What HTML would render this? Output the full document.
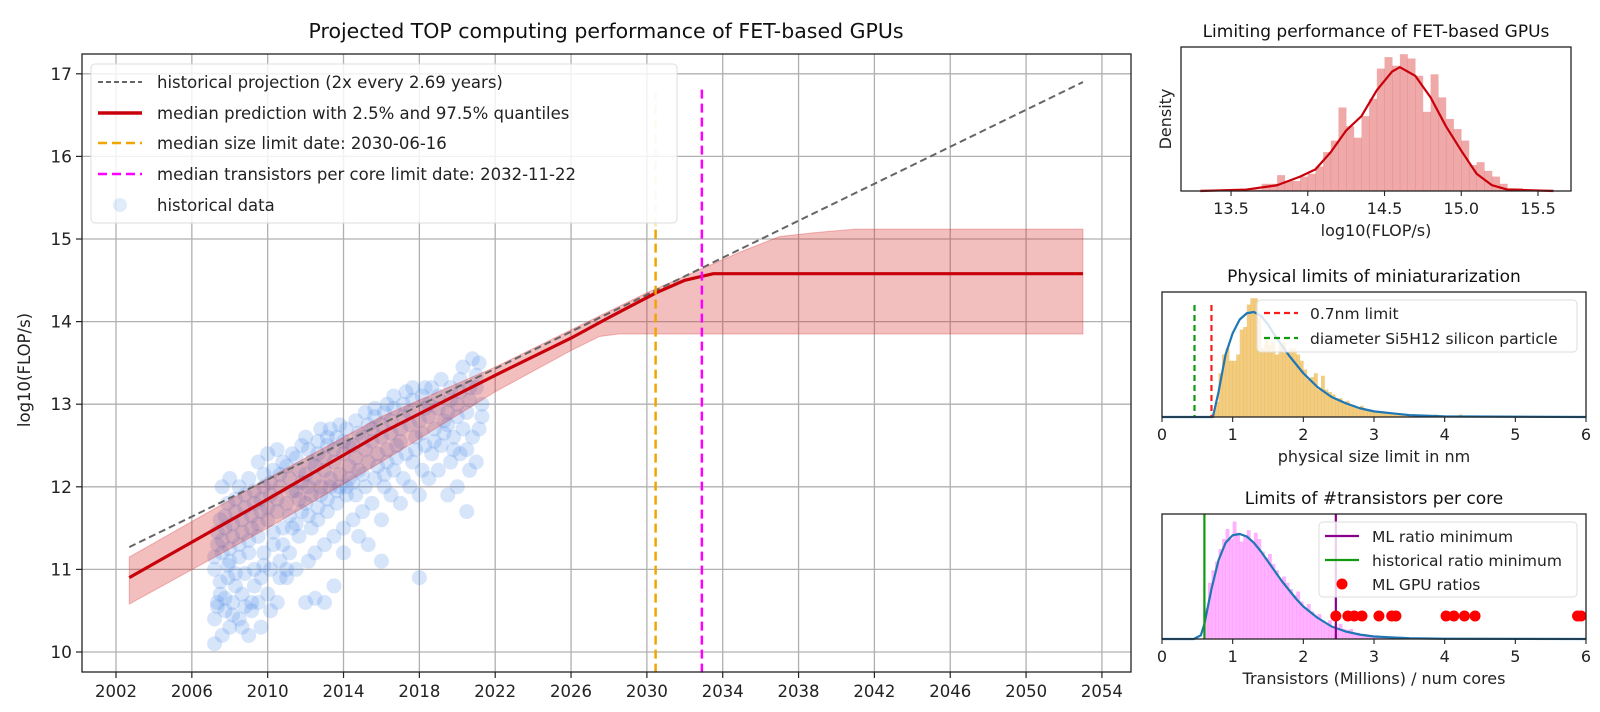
<!DOCTYPE html>
<html><head><meta charset="utf-8">
<style>
html,body{margin:0;padding:0;background:#fff;}
svg{display:block;font-family:"DejaVu Sans","Liberation Sans",sans-serif;}
</style></head>
<body>
<svg id="svg" width="1600" height="712" viewBox="0 0 1600 712">
<text x="606" y="38" font-size="20.5" text-anchor="middle" fill="#111">Projected TOP computing performance of FET-based GPUs</text>
<text x="1376" y="37" font-size="17" text-anchor="middle" fill="#111">Limiting performance of FET-based GPUs</text>
<text x="1374" y="282" font-size="17" text-anchor="middle" fill="#111">Physical limits of miniaturarization</text>
<text x="1374" y="504" font-size="17" text-anchor="middle" fill="#111">Limits of #transistors per core</text>
</svg>
<script>
// ===== main chart data =====
const xTicks = [2002,2006,2010,2014,2018,2022,2026,2030,2034,2038,2042,2046,2050,2054];
const yTicks = [10,11,12,13,14,15,16,17];
const projYears = [2002.7, 2053];
const projVals = [11.27, 16.9];
const medYears = [2002.7,2010,2016,2022,2026,2028,2030.5,2032,2033.5,2053];
const medVals = [10.9,11.85,12.65,13.35,13.8,14.05,14.35,14.5,14.58,14.58];
const upYears = [2002.7,2010,2016,2022,2026,2030,2033,2035,2037,2039,2041,2053];
const upVals = [11.15,12.1,12.85,13.45,13.9,14.35,14.65,14.85,15.03,15.08,15.12,15.12];
const loYears = [2002.7,2010,2016,2022,2026,2027.5,2028.5,2053];
const loVals = [10.58,11.5,12.3,13.15,13.65,13.82,13.85,13.85];
const sizeLimitYear = 2030.46;
const coreLimitYear = 2032.9;
const scatterYears = [2007.2,2007.6,2008.0,2008.5,2009.0,2009.5,2010.0,2010.5,2011.0,2011.5,2012.0,2012.5,2013.0,2013.5,2014.0,2014.5,2015.0,2015.5,2016.0,2016.5,2017.0,2017.5,2018.0,2018.5,2019.0,2019.5,2020.0,2020.5,2021.0];
const scatterValues = [
[10.1,10.55,10.7,11.0,11.3,11.6,10.4,10.6,10.85,11.15,11.45],
[10.2,10.5,10.9,11.2,11.5,11.8,12.0,10.65,11.05,11.35,11.65],
[10.3,10.6,10.8,11.1,11.4,11.7,12.1,10.45,10.95,11.25,11.55,11.85],
[10.4,10.7,10.95,11.3,11.6,11.9,12.0,10.3,10.55,11.15,11.45,11.75],
[10.2,10.5,10.8,11.2,11.5,11.8,12.1,10.6,11.0,11.35,11.65,11.95],
[10.6,10.9,11.2,11.4,11.7,12.0,12.3,10.3,11.05,11.55,11.85,12.15],
[10.7,11.0,11.3,11.6,11.9,12.2,12.4,10.5,11.45,11.75,12.05],
[10.6,10.9,11.3,11.7,12.0,12.3,12.45,11.1,11.5,11.85,12.15],
[10.9,11.2,11.5,11.8,12.1,12.4,11.0,11.65,11.95,12.25],
[11.0,11.4,11.7,11.95,12.2,12.5,11.55,11.85,12.05,12.35],
[10.6,11.1,11.5,11.8,12.0,12.3,12.6,11.65,11.9,12.15,12.45],
[11.2,11.6,11.9,12.1,12.4,12.7,10.65,11.75,12.0,12.25,12.55],
[11.3,11.7,12.0,12.2,12.5,12.7,10.6,11.85,12.1,12.35,12.6],
[11.4,11.8,12.0,12.3,12.6,12.75,10.8,11.95,12.15,12.45],
[11.5,11.9,12.1,12.4,12.7,12.5,11.2,12.0,12.25,12.55],
[11.6,11.9,12.2,12.5,12.8,11.4,12.05,12.35,12.65],
[11.7,12.0,12.3,12.6,12.9,11.3,12.15,12.45,12.75],
[11.8,12.1,12.4,12.7,12.95,12.25,12.55,12.85],
[11.6,12.0,12.3,12.6,12.9,13.0,11.1,12.15,12.45,12.75],
[11.9,12.2,12.5,12.8,13.1,12.35,12.65,12.95],
[11.8,12.1,12.4,12.7,13.0,13.15,12.55,12.85],
[12.0,12.3,12.6,12.9,13.2,12.45,12.75,13.05],
[11.9,12.2,12.5,12.8,13.1,13.2,10.9,12.65,12.95],
[12.1,12.4,12.7,13.0,13.2,12.55,12.85],
[12.2,12.5,12.8,13.1,13.3,12.65,12.95],
[11.9,12.3,12.6,12.9,13.2,12.45,12.75,13.05],
[12.0,12.4,12.7,13.0,13.3,13.45,12.85,13.15],
[11.7,12.2,12.6,12.9,13.2,13.55,12.45,13.05],
[12.3,12.7,13.0,13.2,13.5,12.85,13.35]];

// ===== top-right: limiting performance =====
const perfTicks = [13.5,14.0,14.5,15.0,15.5];
const perfBinStart = 13.3;
const perfBinWidth = 0.05;
const perfBins = [0.01,0.01,0.01,0.01,0.01,0.01,0.01,0.01,0.05,0.05,0.11,0.07,0.07,0.1,0.12,0.17,0.27,0.35,0.58,0.45,0.37,0.52,0.64,0.85,0.93,0.87,0.95,0.92,0.8,0.55,0.81,0.65,0.5,0.43,0.35,0.18,0.2,0.14,0.1,0.05,0.02,0.02,0.01,0.01,0.01,0.01];
const perfKdeX = [13.3,13.6,13.8,13.95,14.05,14.15,14.25,14.35,14.45,14.55,14.6,14.7,14.8,14.9,15.0,15.1,15.2,15.3,15.6];
const perfKdeY = [0,0.01,0.04,0.1,0.15,0.27,0.42,0.52,0.7,0.83,0.86,0.8,0.65,0.45,0.28,0.12,0.04,0.01,0];

// ===== middle-right: size limits =====
const sizeTicks = [0,1,2,3,4,5,6];
const sizeBinStart = 0.7;
const sizeBinWidth = 0.05;
const sizeBins = [0.03,0.12,0.35,0.5,0.55,0.45,0.45,0.5,0.7,0.72,0.9,0.95,0.95,0.8,0.55,0.62,0.58,0.6,0.5,0.58,0.6,0.52,0.55,0.55,0.5,0.45,0.38,0.3,0.32,0.35,0.22,0.33,0.22,0.2,0.18,0.15,0.15,0.12,0.13,0.1,0.08,0.07,0.09,0.06,0.06,0.05,0.05,0.04,0.03,0.04,0.03,0.02,0.03,0.02,0.02,0.01,0.02,0.01,0.01,0.01,0.01,0.01,0.01,0.02,0.01,0.01,0.01,0,0,0,0.02];
const sizeKdeX = [0,0.72,0.8,0.9,1.0,1.1,1.2,1.3,1.4,1.5,1.6,1.7,1.8,1.9,2.0,2.2,2.4,2.6,2.8,3.0,3.5,4.0,6.0];
const sizeKdeY = [0,0,0.2,0.5,0.67,0.78,0.83,0.84,0.81,0.74,0.65,0.57,0.49,0.42,0.35,0.24,0.16,0.11,0.07,0.045,0.015,0.005,0];
const limit07 = 0.7;
const limitSi = 0.46;

// ===== bottom-right: transistors per core =====
const trTicks = [0,1,2,3,4,5,6];
const trBinStart = 0.6;
const trBinWidth = 0.05;
const trBins = [0.25,0.45,0.55,0.62,0.72,0.8,0.88,0.8,0.94,0.85,0.78,0.82,0.87,0.78,0.85,0.8,0.7,0.65,0.68,0.6,0.55,0.48,0.5,0.45,0.4,0.35,0.38,0.3,0.25,0.28,0.22,0.18,0.2,0.15,0.12,0.15,0.1,0.08,0.12,0.08,0.07,0.08,0.04,0.05,0.03,0.04,0.03,0.02,0.03,0.02,0.02,0.01,0.02,0.01,0.01,0.01,0.01,0.01,0.01,0.01,0.01,0.01];
const trKdeX = [0,0.45,0.55,0.6,0.7,0.8,0.9,1.0,1.1,1.2,1.3,1.4,1.5,1.6,1.7,1.8,1.9,2.0,2.2,2.4,2.6,2.8,3.0,3.5,4.0,6.0];
const trKdeY = [0,0,0.03,0.12,0.4,0.63,0.77,0.83,0.84,0.82,0.77,0.7,0.62,0.54,0.46,0.39,0.32,0.26,0.17,0.1,0.06,0.035,0.02,0.006,0.002,0];
const mlRatioMin = 2.46;
const histRatioMin = 0.6;
const mlGpuRatios = [2.46,2.63,2.72,2.83,3.07,3.25,3.31,4.02,4.13,4.28,4.43,5.88,5.93];

const NS = "http://www.w3.org/2000/svg";
const svg = document.getElementById('svg');
function mk(tag, attrs, parent){
  const e = document.createElementNS(NS, tag);
  for (const k in attrs) e.setAttribute(k, attrs[k]);
  (parent||svg).appendChild(e);
  return e;
}

// ---------- main chart ----------
const M = {l:82, r:1131, t:54, b:672};
const X = yr => 116 + (yr - 2002) * 18.96;
const Y = v => 652 - (v - 10) * 82.6;
const gMain = mk('g', {});


xTicks.forEach(t => {
  const l = mk('line', {x1:X(t), x2:X(t), y1:M.t, y2:M.b, stroke:'#b0b0b0', 'stroke-width':1.3}, gMain);
  
  
  const tk = mk('line', {x1:X(t), x2:X(t), y1:M.b, y2:M.b+6, stroke:'#222', 'stroke-width':1.2}, gMain);
  
  
  const tx = mk('text', {x:X(t), y:M.b+25, 'font-size':16.5, 'text-anchor':'middle', fill:'#222'}, gMain);
  tx.textContent = t;
  
  
});
yTicks.forEach(t => {
  const l = mk('line', {x1:M.l, x2:M.r, y1:Y(t), y2:Y(t), stroke:'#b0b0b0', 'stroke-width':1.3}, gMain);
  
  
  const tk = mk('line', {x1:M.l-6, x2:M.l, y1:Y(t), y2:Y(t), stroke:'#222', 'stroke-width':1.2}, gMain);
  
  
  const tx = mk('text', {x:M.l-10, y:Y(t)+6, 'font-size':17, 'text-anchor':'end', fill:'#222'}, gMain);
  tx.textContent = t;
  
  
});
const yl = mk('text', {x:30, y:370, 'font-size':16.5, 'text-anchor':'middle', fill:'#222', transform:'rotate(-90 30 370)'}, gMain);
yl.textContent = 'log10(FLOP/s)';



// scatter
const gSc = mk('g', {}, gMain);


scatterYears.forEach((yr, i) => {
  scatterValues[i].forEach((v, j) => {
    const c = mk('circle', {cx:X(yr + (j%3)*0.15), cy:Y(v), r:7.5, fill:'#4a8ae8', 'fill-opacity':0.22}, gSc);
    
    
  });
});

// band
let bp = upYears.map((y,i)=>X(y)+','+Y(upVals[i]));
for (let i = loYears.length-1; i >= 0; i--) bp.push(X(loYears[i])+','+Y(loVals[i]));
const band = mk('polygon', {points:bp.join(' '), fill:'#d62728', 'fill-opacity':0.3, stroke:'#d62728', 'stroke-opacity':0.3}, gMain);



const proj = mk('polyline', {points:projYears.map((y,i)=>X(y)+','+Y(projVals[i])).join(' '), fill:'none', stroke:'#666', 'stroke-width':2, 'stroke-dasharray':'7,4'}, gMain);



const med = mk('polyline', {points:medYears.map((y,i)=>X(y)+','+Y(medVals[i])).join(' '), fill:'none', stroke:'#c8000a', 'stroke-width':3.2}, gMain);



const vof = mk('line', {x1:X(sizeLimitYear), x2:X(sizeLimitYear), y1:Y(15.15), y2:Y(16.85), stroke:'#f0a500', 'stroke-opacity':0.3, 'stroke-width':2.5, 'stroke-dasharray':'9,5'}, gMain);


const vo = mk('line', {x1:X(sizeLimitYear), x2:X(sizeLimitYear), y1:Y(9.75), y2:Y(15.15), stroke:'#f0a500', 'stroke-width':2.5, 'stroke-dasharray':'9,5'}, gMain);


const vm = mk('line', {x1:X(coreLimitYear), x2:X(coreLimitYear), y1:Y(9.75), y2:Y(16.85), stroke:'#ff00ff', 'stroke-width':2.5, 'stroke-dasharray':'9,5'}, gMain);



const fr = mk('rect', {x:M.l, y:M.t, width:M.r-M.l, height:M.b-M.t, fill:'none', stroke:'#222', 'stroke-width':1.3}, gMain);



// legend
const gLeg = mk('g', {}, gMain);


mk('rect', {x:91, y:64, width:586, height:159, rx:4, fill:'#fff', 'fill-opacity':0.82, stroke:'#ddd'}, gLeg);
const legItems = [
  ['historical projection (2x every 2.69 years)', '#666', '5,3', 2],
  ['median prediction with 2.5% and 97.5% quantiles', '#c8000a', null, 3.5],
  ['median size limit date: 2030-06-16', '#f0a500', '9,5', 2.5],
  ['median transistors per core limit date: 2032-11-22', '#ff00ff', '9,5', 2.5],
  ['historical data', null, null, 0]
];
const legY = [82,113,143,174,205];
legItems.forEach((it, i) => {
  const y = legY[i];
  if (it[1]) {
    const a = {x1:98, x2:142, y1:y, y2:y, stroke:it[1], 'stroke-width':it[3]};
    if (it[2]) a['stroke-dasharray'] = it[2];
    mk('line', a, gLeg);
  } else {
    mk('circle', {cx:120, cy:y, r:7, fill:'#6a9ee8', 'fill-opacity':0.2}, gLeg);
  }
  const t = mk('text', {x:157, y:y+6, 'font-size':16.5, fill:'#222'}, gLeg);
  t.textContent = it[0];
  
  
});

// ---------- small panels ----------
function panel(name, P, xmin, xmax, ticks, tickFmt, xlabel, bins, binStart, binW, binColor, binOpacity, kdeX, kdeY, kdeColor) {
  const g = mk('g', {});
  
  
  const sx = v => P.l + (v - xmin) / (xmax - xmin) * (P.r - P.l);
  const sy = d => P.b - d * (P.b - P.t);
  bins.forEach((h, i) => {
    if (h <= 0) return;
    const x0 = sx(binStart + i*binW), x1 = sx(binStart + (i+1)*binW);
    const r = mk('rect', {x:x0, y:sy(h), width:x1-x0+0.3, height:P.b-sy(h), fill:binColor, 'fill-opacity':binOpacity}, g);
    
    
  });
  const k = mk('polyline', {points:kdeX.map((x,i)=>sx(Math.max(xmin,Math.min(xmax,x)))+','+sy(kdeY[i])).join(' '), fill:'none', stroke:kdeColor, 'stroke-width':2.2, 'stroke-linejoin':'round'}, g);
  
  
  ticks.forEach(t => {
    mk('line', {x1:sx(t), x2:sx(t), y1:P.b, y2:P.b+5, stroke:'#222', 'stroke-width':1.1}, g);
    const tx = mk('text', {x:sx(t), y:P.b+23, 'font-size':16, 'text-anchor':'middle', fill:'#222'}, g);
    tx.textContent = tickFmt(t);
    
    
  });
  const xl = mk('text', {x:(P.l+P.r)/2, y:P.b+45, 'font-size':16, 'text-anchor':'middle', fill:'#222'}, g);
  xl.textContent = xlabel;
  
  
  return {g, sx, sy};
}
function frame(g, P){
  const f = mk('rect', {x:P.l, y:P.t, width:P.r-P.l, height:P.b-P.t, fill:'none', stroke:'#222', 'stroke-width':1.3}, g);
  
  
}

// top panel
const P1 = {l:1181, r:1571, t:47, b:191};
const p1 = panel('limiting-performance-chart', P1, 13.174, 15.715, perfTicks, t=>t.toFixed(1), 'log10(FLOP/s)', perfBins, perfBinStart, perfBinWidth, '#d62728', 0.4, perfKdeX, perfKdeY, '#c8000a');
const dl = mk('text', {x:1171, y:119, 'font-size':16, 'text-anchor':'middle', fill:'#222', transform:'rotate(-90 1171 119)'}, p1.g);
dl.textContent = 'Density';


frame(p1.g, P1);

// middle panel
const P2 = {l:1162, r:1586, t:292, b:417};
const p2 = panel('miniaturization-chart', P2, 0, 6, sizeTicks, t=>t, 'physical size limit in nm', sizeBins, sizeBinStart, sizeBinWidth, '#e8a317', 0.55, sizeKdeX, sizeKdeY, '#1f77b4');
const l07 = mk('line', {x1:p2.sx(limit07), x2:p2.sx(limit07), y1:305, y2:P2.b, stroke:'#ff1a1a', 'stroke-width':2.2, 'stroke-dasharray':'6,4'}, p2.g);


const lsi = mk('line', {x1:p2.sx(limitSi), x2:p2.sx(limitSi), y1:305, y2:P2.b, stroke:'#119911', 'stroke-width':2.2, 'stroke-dasharray':'6,4'}, p2.g);


const lg2 = mk('g', {}, p2.g);


mk('rect', {x:1257, y:300, width:320, height:52, rx:4, fill:'#fff', 'fill-opacity':0.82, stroke:'#ddd'}, lg2);
mk('line', {x1:1264, x2:1298, y1:313, y2:313, stroke:'#ff1a1a', 'stroke-width':2.2, 'stroke-dasharray':'6,4'}, lg2);
mk('line', {x1:1264, x2:1298, y1:338, y2:338, stroke:'#119911', 'stroke-width':2.2, 'stroke-dasharray':'6,4'}, lg2);
const t21 = mk('text', {x:1310, y:319, 'font-size':15.5, fill:'#222'}, lg2); t21.textContent = '0.7nm limit';


const t22 = mk('text', {x:1310, y:344, 'font-size':15.5, fill:'#222'}, lg2); t22.textContent = 'diameter Si5H12 silicon particle';


frame(p2.g, P2);

// bottom panel
const P3 = {l:1162, r:1586, t:514, b:639};
const p3 = panel('transistors-chart', P3, 0, 6, trTicks, t=>t, 'Transistors (Millions) / num cores', trBins, trBinStart, trBinWidth, '#ff66ff', 0.5, trKdeX, trKdeY, '#1f77b4');
const lml = mk('line', {x1:p3.sx(mlRatioMin), x2:p3.sx(mlRatioMin), y1:P3.t, y2:P3.b, stroke:'#8b008b', 'stroke-width':2.2}, p3.g);


const lhi = mk('line', {x1:p3.sx(histRatioMin), x2:p3.sx(histRatioMin), y1:P3.t, y2:P3.b, stroke:'#119911', 'stroke-width':2.2}, p3.g);


mlGpuRatios.forEach(v => {
  const c = mk('circle', {cx:p3.sx(v), cy:616, r:5.5, fill:'#ff0000'}, p3.g);
  
  
});
const lg3 = mk('g', {}, p3.g);


mk('rect', {x:1319, y:522, width:258, height:75, rx:4, fill:'#fff', 'fill-opacity':0.82, stroke:'#ddd'}, lg3);
mk('line', {x1:1325, x2:1359, y1:536, y2:536, stroke:'#8b008b', 'stroke-width':2.2}, lg3);
mk('line', {x1:1325, x2:1359, y1:560, y2:560, stroke:'#119911', 'stroke-width':2.2}, lg3);
mk('circle', {cx:1342, cy:584, r:5.5, fill:'#ff0000'}, lg3);
[['ML ratio minimum',536],['historical ratio minimum',560],['ML GPU ratios',584]].forEach(e => {
  const t = mk('text', {x:1372, y:e[1]+6, 'font-size':15.5, fill:'#222'}, lg3);
  t.textContent = e[0];
  
  
});
frame(p3.g, P3);
</script>
</body></html>
